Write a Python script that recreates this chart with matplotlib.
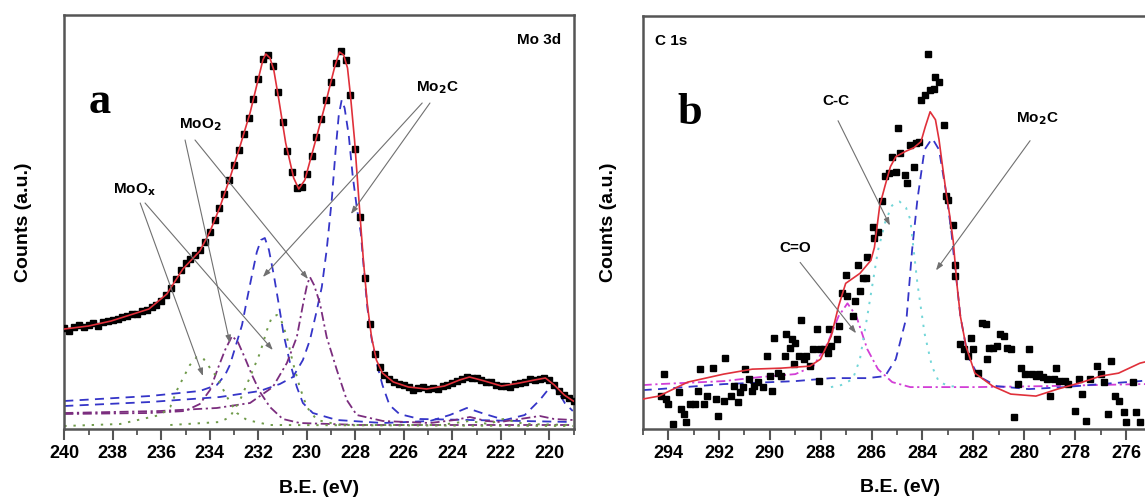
import matplotlib
matplotlib.use("Agg")
import matplotlib.pyplot as plt
from matplotlib.ticker import MultipleLocator

plt.rcParams['font.family'] = ['Liberation Sans', 'DejaVu Sans']
plt.rcParams['font.weight'] = 'bold'

# ---------------- Panel a : Mo 3d ----------------
a_be = [240.0, 239.8, 239.6, 239.4, 239.2, 239.0, 238.8, 238.6, 238.4, 238.2,
        238.0, 237.8, 237.6, 237.4, 237.2, 237.0, 236.8, 236.6, 236.4, 236.2,
        236.0, 235.8, 235.6, 235.4, 235.2, 235.0, 234.8, 234.6, 234.4, 234.2,
        234.0, 233.8, 233.6, 233.4, 233.2, 233.0, 232.8, 232.6, 232.4, 232.2,
        232.0, 231.8, 231.6, 231.4, 231.2, 231.0, 230.8, 230.6, 230.4, 230.2,
        230.0, 229.8, 229.6, 229.4, 229.2, 229.0, 228.8, 228.6, 228.4, 228.2,
        228.0, 227.8, 227.6, 227.4, 227.2, 227.0, 226.8, 226.6, 226.4, 226.2,
        226.0, 225.8, 225.6, 225.4, 225.2, 225.0, 224.8, 224.6, 224.4, 224.2,
        224.0, 223.8, 223.6, 223.4, 223.2, 223.0, 222.8, 222.6, 222.4, 222.2,
        222.0, 221.8, 221.6, 221.4, 221.2, 221.0, 220.8, 220.6, 220.4, 220.2,
        220.0, 219.8, 219.6, 219.4, 219.2, 219.0]
a_counts = [101, 98, 102, 104, 102, 104, 106, 103, 107, 108,
            109, 110, 112, 113, 115, 115, 118, 119, 122, 124,
            128, 134, 141, 150, 159, 166, 170, 174, 179, 187,
            197, 209, 221, 235, 249, 264, 279, 295, 311, 330,
            350, 370, 374, 363, 337, 307, 278, 257, 241, 242,
            255, 273, 292, 310, 329, 347, 366, 378, 369, 334,
            280, 212, 151, 105, 75, 62, 54, 50, 47, 45,
            44, 42, 39, 41, 42, 40, 41, 40, 43, 44,
            46, 48, 50, 52, 51, 51, 49, 47, 47, 44,
            43, 43, 42, 45, 46, 47, 50, 49, 50, 51,
            49, 44, 38, 34, 31, 28]

a_fit_be = [240.00, 239.0, 238.07, 236.51, 235.77, 235.11, 234.41, 234.00, 233.58, 233.17,
            232.75, 232.34, 232.01, 231.81, 231.69, 231.52, 231.36, 231.15, 230.87, 230.54,
            230.33, 230.08, 229.63, 229.18, 228.85, 228.65, 228.48, 228.32, 228.20, 228.03,
            227.91, 227.79, 227.66, 227.50, 227.33, 227.13, 226.88, 226.43, 225.81, 225.06,
            224.32, 223.70, 223.29, 222.67, 221.97, 221.23, 220.61, 220.16, 219.79, 219.38,
            219.01]
a_fit = [100, 103, 108, 120, 135, 160, 178, 197, 222, 251,
         283, 316, 349, 369, 375, 371, 359, 329, 286, 251,
         240, 249, 289, 330, 362, 377, 374, 361, 334, 289,
         249, 209, 167, 124, 92, 69, 56, 47, 42, 40,
         43, 49, 52, 48, 43, 46, 49, 51, 44, 34,
         28]

# Mo2C 3d5/2 (blue dashed)
a_mo2c1_be = [240.0, 236.47, 233.58, 231.93, 231.11, 230.57, 230.16, 229.87, 229.63, 229.38,
              229.18, 228.97, 228.81, 228.68, 228.56, 228.44, 228.27, 228.11, 227.94, 227.77,
              227.66, 227.50, 227.33, 227.13, 226.88, 226.59, 226.18, 225.35, 219.03]
a_mo2c1 = [23, 27, 32, 38, 45, 52, 69, 89, 114, 142,
           179, 229, 279, 314, 329, 321, 294, 254, 222, 196,
           164, 121, 91, 67, 44, 24, 15, 10, 7]
# Mo2C 3d3/2 (blue dashed)
a_mo2c2_be = [240.0, 236.47, 234.41, 233.71, 233.37, 233.17, 232.92, 232.67, 232.47, 232.26,
              232.06, 231.89, 231.73, 231.56, 231.36, 231.15, 230.95, 230.70, 230.41, 230.16,
              229.75, 228.76, 226.86, 224.92, 224.10, 223.40, 222.66, 221.83, 221.01, 220.39,
              220.06, 219.87, 219.60, 219.36, 219.03]
a_mo2c2 = [28, 33, 38, 44, 54, 64, 84, 104, 129, 154,
           177, 189, 191, 179, 154, 124, 94, 67, 42, 26,
           16, 9, 6, 8, 14, 21, 15, 9, 14, 29,
           39, 44, 36, 26, 18]
# MoO2 3d5/2 (purple dash-dot)
a_moo2_1_be = [240.0, 236.05, 233.71, 232.34, 231.40, 230.82, 230.41, 230.16, 229.99, 229.87,
               229.70, 229.46, 229.18, 228.76, 228.35, 227.94, 226.86, 224.92, 223.90, 223.27,
               222.60, 222.04, 221.20, 220.39, 219.80, 219.03]
a_moo2_1 = [16, 18, 21, 26, 42, 66, 92, 124, 144, 152,
            144, 126, 92, 59, 29, 14, 8, 6, 9, 12,
            8, 7, 10, 13, 10, 9]
# MoO2 3d3/2 (purple dash-dot)
a_moo2_2_be = [240.0, 236.47, 235.02, 234.41, 233.99, 233.66, 233.37, 233.08, 232.84, 232.55,
               232.26, 231.93, 231.52, 230.99, 230.29, 227.81, 219.03]
a_moo2_2 = [15, 16, 18, 25, 39, 61, 79, 93, 87, 71,
            54, 37, 22, 10, 6, 4, 4]
# MoOx 3d5/2 (green dotted)
a_moox1_be = [235.63, 233.58, 233.17, 232.75, 232.34, 231.93, 231.64, 231.44, 231.23, 231.03,
              230.82, 230.57, 230.29, 230.00, 229.58, 228.63, 224.50, 223.30, 222.50, 221.90,
              221.00, 219.03]
a_moox1 = [4, 7, 12, 29, 52, 76, 99, 112, 114, 107,
           92, 66, 42, 22, 9, 4, 4, 8, 5, 10,
           5, 4]
# MoOx 3d3/2 (green dotted)
a_moox2_be = [240.0, 237.70, 236.05, 235.63, 235.35, 235.10, 234.82, 234.53, 234.28, 233.99,
              233.71, 233.29, 232.88, 232.47, 231.52, 219.03]
a_moox2 = [3, 5, 14, 22, 39, 51, 64, 72, 71, 61,
           52, 32, 16, 9, 4, 3]

# ---------------- Panel b : C 1s ----------------
b_be = [294.29, 294.15, 294.08, 294.01, 293.80, 293.58, 293.51, 293.37, 293.30, 293.16,
        292.95, 292.81, 292.74, 292.60, 292.46, 292.24, 292.10, 292.03, 291.82, 291.75,
        291.54, 291.40, 291.26, 291.19, 291.04, 290.97, 290.83, 290.69, 290.62, 290.48,
        290.27, 290.13, 289.98, 289.91, 289.84, 289.70, 289.56, 289.42, 289.35, 289.21,
        289.14, 289.07, 289.00, 288.86, 288.79, 288.65, 288.57, 288.43, 288.29, 288.15,
        288.08, 288.01, 287.87, 287.73, 287.66, 287.59, 287.37, 287.30, 287.16, 287.02,
        286.95, 286.74, 286.66, 286.53, 286.46, 286.32, 286.24, 286.17, 285.96, 285.89,
        285.75, 285.61, 285.47, 285.33, 285.19, 285.05, 284.97, 284.90, 284.69, 284.62,
        284.48, 284.34, 284.27, 284.13, 284.06, 283.92, 283.77, 283.70, 283.56, 283.49,
        283.35, 283.14, 283.07, 283.00, 282.79, 282.72, 282.72, 282.51, 282.36, 282.22,
        282.08, 282.01, 281.80, 281.66, 281.52, 281.45, 281.37, 281.23, 281.09, 280.95,
        280.81, 280.67, 280.53, 280.39, 280.25, 280.11, 279.96, 279.82, 279.68, 279.54,
        279.40, 279.26, 279.12, 278.98, 278.83, 278.76, 278.62, 278.41, 278.27, 277.99,
        277.85, 277.71, 277.57, 277.42, 277.14, 277.00, 276.86, 276.71, 276.57, 276.43,
        276.29, 276.08, 276.01, 275.73, 275.59, 275.45]
b_counts = [33, 55, 30, 25, 5, 37, 20, 15, 7, 25,
            25, 38, 60, 25, 33, 61, 30, 13, 28, 71,
            33, 43, 27, 37, 42, 60, 50, 38, 43, 47,
            42, 73, 53, 38, 91, 56, 53, 73, 95, 81,
            90, 65, 86, 73, 109, 70, 73, 63, 80, 100,
            48, 80, 80, 76, 100, 83, 90, 103, 136, 154,
            133, 113, 128, 164, 138, 151, 151, 172, 202, 191,
            197, 229, 254, 257, 273, 258, 302, 277, 255, 247,
            285, 263, 287, 288, 330, 335, 376, 340, 341, 353,
            348, 305, 234, 230, 204, 164, 153, 85, 80, 73,
            91, 80, 56, 106, 105, 70, 81, 81, 83, 95,
            93, 81, 80, 12, 45, 61, 55, 80, 55, 53,
            55, 52, 50, 33, 50, 61, 48, 48, 45, 18,
            50, 35, 8, 50, 63, 55, 47, 15, 68, 33,
            28, 17, 7, 47, 17, 7]

b_fit_be = [295.0, 294.36, 293.23, 291.82, 290.69, 289.56, 288.43, 288.01, 287.59, 287.30,
            287.02, 286.46, 286.03, 285.89, 285.68, 285.47, 285.26, 285.05, 284.69, 284.34,
            284.06, 283.89, 283.70, 283.49, 283.35, 283.21, 283.07, 282.93, 282.79, 282.65,
            282.51, 282.29, 281.94, 281.24, 280.53, 279.54, 278.69, 277.71, 277.00, 276.29,
            275.45, 274.8]
b_fit = [30, 33, 47, 55, 60, 61, 63, 70, 93, 123,
         146, 156, 169, 182, 224, 244, 263, 273, 278, 282,
         288, 303, 318, 310, 290, 263, 237, 214, 188, 146,
         113, 83, 56, 43, 35, 33, 40, 47, 53, 56,
         66, 70]
# Mo2C (blue dashed)
b_mo2c_be = [295.0, 294.36, 291.82, 289.0, 287.59, 286.17, 285.47, 285.05, 284.62, 284.41,
             284.20, 283.92, 283.63, 283.56, 283.35, 283.07, 282.86, 282.79, 282.51, 282.22,
             281.80, 281.09, 279.82, 278.41, 277.0, 275.45, 274.8]
b_mo2c = [39, 40, 45, 48, 51, 51, 53, 70, 113, 179,
          230, 280, 291, 289, 280, 237, 197, 179, 113, 73,
          53, 43, 40, 42, 45, 48, 50]
# C-C (cyan dotted)
b_cc_be = [287.6, 287.2, 286.74, 286.46, 286.17, 285.96, 285.75, 285.47, 285.20, 284.90,
           284.65, 284.48, 284.20, 283.92, 283.63, 283.35, 282.93, 282.5]
b_cc = [42, 44, 50, 70, 113, 146, 179, 207, 224, 228,
        222, 210, 146, 96, 63, 47, 43, 42]
# C=O (magenta dash-dot)
b_co_be = [295.0, 294.36, 291.82, 290.41, 289.0, 288.29, 287.73, 287.30, 286.95, 286.60,
           286.17, 285.75, 285.19, 284.48, 283.35, 281.94, 279.12, 275.45, 274.8]
b_co = [44, 45, 48, 52, 55, 63, 86, 113, 126, 113,
        80, 60, 47, 42, 42, 42, 43, 45, 45]

# ---------------- styling ----------------
BLUE = '#3535c8'
PURPLE = '#7b2d7e'
GREEN = '#6f9a4a'
RED = '#e0303a'
CYAN = '#72d6d8'
MAGENTA = '#d23ed6'
FRAME = '#555555'
ARROW = '#707070'

fig = plt.figure(figsize=(11.45, 5.0), dpi=100)
ax_a = fig.add_axes([64.3 / 1145, 1 - 429 / 500, (573.5 - 64.3) / 1145, (429 - 15) / 500])
ax_b = fig.add_axes([642.7 / 1145, 1 - 429 / 500, (1157 - 642.7) / 1145, (429 - 16) / 500])


def style(ax, xlim, ticks):
    ax.set_xlim(*xlim)
    ax.set_ylim(0, 414)
    ax.set_xticks(ticks)
    ax.xaxis.set_minor_locator(MultipleLocator(1))
    ax.set_yticks([])
    for s in ax.spines.values():
        s.set_color(FRAME)
        s.set_linewidth(1.8)
    ax.tick_params(axis='x', which='major', direction='out', length=8, width=1.5,
                   color=FRAME, labelsize=13, pad=3.5)
    ax.tick_params(axis='x', which='minor', direction='out', length=4, width=1.3, color=FRAME)
    ax.tick_params(axis='x', top=False, which='both')
    for lab in ax.get_xticklabels():
        lab.set_fontweight('bold')
    ax.set_xlabel('B.E. (eV)', fontsize=14, fontweight='bold')
    ax.set_ylabel('Counts (a.u.)', fontsize=14, fontweight='bold')


style(ax_a, (240, 219), [240, 238, 236, 234, 232, 230, 228, 226, 224, 222, 220])
style(ax_b, (295, 274.78), [294, 292, 290, 288, 286, 284, 282, 280, 278, 276])
ax_a.xaxis.set_label_coords(0.5, -0.122)
ax_a.yaxis.set_label_coords(-0.064, 0.5)
ax_b.xaxis.set_label_coords(0.5, -0.122)
ax_b.yaxis.set_label_coords(-0.05, 0.5)

# panel a components
dash = (0, (5, 3.5))
dashdot = (0, (5, 2, 1.2, 2))
dotted = (0, (1.2, 3.5))
ax_a.plot(a_mo2c1_be, a_mo2c1, color=BLUE, lw=1.3, ls=dash, zorder=2)
ax_a.plot(a_mo2c2_be, a_mo2c2, color=BLUE, lw=1.3, ls=dash, zorder=2)
ax_a.plot(a_moo2_1_be, a_moo2_1, color=PURPLE, lw=1.3, ls=dashdot, zorder=2)
ax_a.plot(a_moo2_2_be, a_moo2_2, color=PURPLE, lw=1.3, ls=dashdot, zorder=2)
ax_a.plot(a_moox1_be, a_moox1, color=GREEN, lw=1.4, ls=dotted, zorder=2)
ax_a.plot(a_moox2_be, a_moox2, color=GREEN, lw=1.4, ls=dotted, zorder=2)
ax_a.plot(a_be, a_counts, ls='none', marker='s', ms=4.8, color='black', zorder=3)
ax_a.plot(a_fit_be, a_fit, color=RED, lw=1.2, zorder=4)

# panel b components
ax_b.plot(b_co_be, b_co, color=MAGENTA, lw=1.3, ls=dashdot, zorder=2)
ax_b.plot(b_mo2c_be, b_mo2c, color=BLUE, lw=1.3, ls=dash, zorder=2)
ax_b.plot(b_cc_be, b_cc, color=CYAN, lw=1.4, ls=dotted, zorder=2)
ax_b.plot(b_be, b_counts, ls='none', marker='s', ms=5.0, color='black', zorder=3)
ax_b.plot(b_fit_be, b_fit, color=RED, lw=1.2, zorder=4)

# labels
serif = ['Liberation Serif', 'DejaVu Serif']
ax_a.text(0.07, 0.79, 'a', transform=ax_a.transAxes, family=serif, fontsize=32,
          fontweight='bold', ha='center', va='center')
ax_b.text(0.091, 0.765, 'b', transform=ax_b.transAxes, family=serif, fontsize=32,
          fontweight='bold', ha='center', va='center')
ax_a.text(0.976, 0.94, 'Mo 3d', transform=ax_a.transAxes, fontsize=11,
          fontweight='bold', ha='right', va='center')
ax_b.text(0.024, 0.94, 'C 1s', transform=ax_b.transAxes, fontsize=11,
          fontweight='bold', ha='left', va='center')

lab_kw = dict(fontsize=11, fontweight='bold', ha='center', va='center')
ax_a.text(234.4, 304, r'MoO$_\mathbf{2}$', **lab_kw)
ax_a.text(237.1, 239, r'MoO$_\mathbf{x}$', **lab_kw)
ax_a.text(224.6, 341, r'Mo$_\mathbf{2}$C', **lab_kw)
ax_b.text(287.4, 329, 'C-C', **lab_kw)
ax_b.text(289.0, 181, 'C=O', **lab_kw)
ax_b.text(279.5, 311, r'Mo$_\mathbf{2}$C', **lab_kw)

arrow_kw = dict(arrowstyle='-|>,head_length=0.45,head_width=0.16', color=ARROW,
                lw=0.8, shrinkA=0, shrinkB=0)
arrows_a = [((236.87, 226), (234.28, 53)), ((236.67, 226), (231.40, 79)),
            ((235.02, 289), (233.17, 86)), ((234.61, 289), (229.95, 150)),
            ((225.24, 326), (231.81, 152)), ((224.92, 326), (228.18, 215))]
for start, tip in arrows_a:
    ax_a.annotate('', xy=tip, xytext=start, arrowprops=arrow_kw, zorder=5)
arrows_b = [((287.32, 309), (285.28, 204)), ((288.81, 167), (286.61, 96)),
            ((279.77, 289), (283.47, 159))]
for start, tip in arrows_b:
    ax_b.annotate('', xy=tip, xytext=start, arrowprops=arrow_kw, zorder=5)

fig.savefig('out.png', dpi=100)
